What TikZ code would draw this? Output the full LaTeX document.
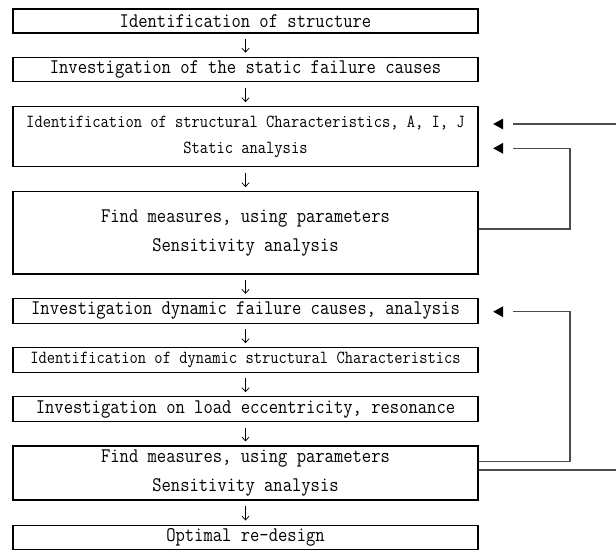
\documentclass[tikz,border=0pt]{standalone}
\usepackage{fontspec}
\newfontfamily\monofont[FakeStretch=0.87]{Latin Modern Mono}
\usetikzlibrary{arrows.meta,calc}
\tikzset{
  box/.style={draw=black, line width=0.8pt, minimum width=348.75pt, inner sep=0pt, align=center},
  bigtext/.style={font=\monofont\fontsize{15.6pt}{22pt}\selectfont},
  smalltext/.style={font=\monofont\fontsize{13.85pt}{19.3pt}\selectfont},
  down/.style={draw=black, line width=0.55pt, -{Straight Barb[length=3pt,width=5.5pt]}, shorten <=4pt, shorten >=3pt},
  fbline/.style={draw=black!70, line width=0.8pt},
  fbtip/.style={fill=black}
}
\begin{document}
\begin{tikzpicture}[x=0.75pt,y=-0.75pt]
\useasboundingbox (0,0) rectangle (616,550);
\fill[white] (0,0) rectangle (616,550);

\node[box,bigtext,minimum height=18pt]   (b1) at (245.5,21)    {Identification of structure};
\node[box,bigtext,minimum height=18.5pt] (b2) at (245.5,69.5)  {Investigation of the static failure causes};
\node[box,smalltext,minimum height=45pt] (b3) at (245.5,136.7) {Identification of structural Characteristics, A, I, J\\Static analysis};
\node[box,bigtext,minimum height=61.7pt] (b4) at (245.5,232.85) {Find measures, using parameters\\Sensitivity analysis};
\node[box,bigtext,minimum height=18.75pt] (b5) at (245.5,310.8) {Investigation dynamic failure causes, analysis};
\node[box,smalltext,minimum height=18.5pt] (b6) at (245.5,360)  {Identification of dynamic structural Characteristics};
\node[box,bigtext,minimum height=18.75pt] (b7) at (245.5,409.2) {Investigation on load eccentricity, resonance};
\node[box,bigtext,minimum height=40.5pt] (b8) at (245.5,473)   {Find measures, using parameters\\Sensitivity analysis};
\node[box,bigtext,minimum height=18.25pt] (b9) at (245.5,537.2) {Optimal re-design};

\draw[down] (b1) -- (b2);
\draw[down] (b2) -- (b3);
\draw[down] (b3) -- (b4);
\draw[down] (b4) -- (b5);
\draw[down] (b5) -- (b6);
\draw[down] (b6) -- (b7);
\draw[down] (b7) -- (b8);
\draw[down] (b8) -- (b9);

% feedback levels
\coordinate (r1) at (0,124);
\coordinate (r2) at (0,148.3);
\coordinate (r3) at (0,311.7);
\coordinate (r4) at (0,229);
\coordinate (r5) at (0,461.7);
\coordinate (r6) at (0,470);

% line ends and tips
\coordinate (e1) at ([xshift=26pt]b3.east |- r1);
\coordinate (e2) at ([xshift=26pt]b3.east |- r2);
\coordinate (e3) at ([xshift=26pt]b5.east |- r3);
\coordinate (t1) at ([xshift=11pt]b3.east |- r1);
\coordinate (t2) at ([xshift=11pt]b3.east |- r2);
\coordinate (t3) at ([xshift=11pt]b5.east |- r3);

\draw[fbline] (b8.east |- r6) -- (650,470) -- (650,124) -- (e1);
\draw[fbline] (b4.east |- r4) -- (570,229) -- (570,148.3) -- (e2);
\draw[fbline] (b8.east |- r5) -- (570,461.7) -- (570,311.7) -- (e3);

\fill[fbtip] (t1) -- ++(10,-5.5) -- ++(0,11) -- cycle;
\fill[fbtip] (t2) -- ++(10,-5.5) -- ++(0,11) -- cycle;
\fill[fbtip] (t3) -- ++(10,-5.5) -- ++(0,11) -- cycle;
\end{tikzpicture}
\end{document}
